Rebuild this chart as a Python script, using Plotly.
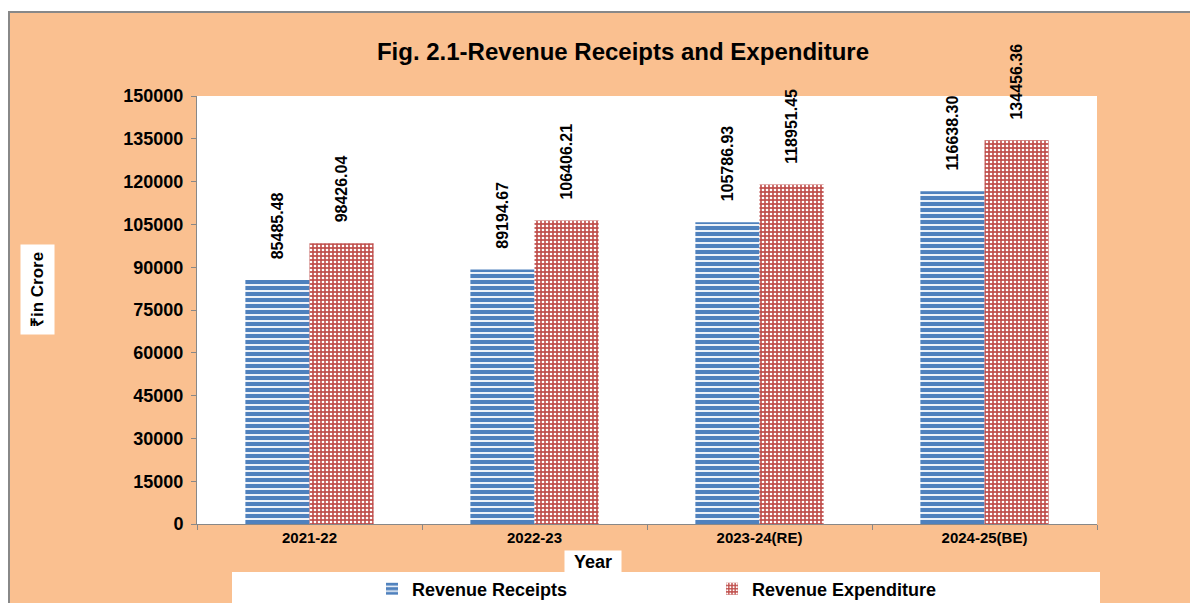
import plotly.graph_objects as go

years = ["2021-22", "2022-23", "2023-24(RE)", "2024-25(BE)"]
receipts = [85485.48, 89194.67, 105786.93, 116638.30]
expenditure = [98426.04, 106406.21, 118951.45, 134456.36]
y_ticks = list(range(0, 150001, 15000))

# page offset of the figure (browser body margin)
OX, OY = 8, 8
W, H = 1190, 595
L, R, T, B = 189, 101, 88, 79
PW, PH = W - L - R, H - T - B


def px(x):
    # x in page pixels -> paper coordinate
    return (x - OX - L) / PW


def py(y):
    # y in page pixels -> paper coordinate
    return (H - B - (y - OY)) / PH


def cy(y):
    # y in page pixels -> container coordinate
    return 1 - (y - OY) / H


def cx(x):
    return (x - OX) / W


FONT = "Liberation Sans, Arial, sans-serif"
PEACH = "#FAC090"
BLUE = "#4F81BD"
RED = "#C0504D"
LABEL_FONT = dict(family=FONT, size=16, color="black", weight="bold")
GAP = "\u00a0" * 4

fig = go.Figure()
fig.add_trace(go.Bar(
    x=years, y=receipts, name="Revenue Receipts",
    marker=dict(color=BLUE, line=dict(width=0),
                pattern=dict(shape="-", fgcolor="white", bgcolor=BLUE,
                             size=6, solidity=0.3, fgopacity=1)),
    texttemplate=GAP + "%{y:.2f}", textposition="outside", textangle=-90,
    textfont=LABEL_FONT, cliponaxis=False, constraintext="none",
))
fig.add_trace(go.Bar(
    x=years, y=expenditure, name="Revenue Expenditure",
    marker=dict(color=RED, line=dict(width=0),
                pattern=dict(shape=".", fgcolor="white", bgcolor=RED,
                             size=4, solidity=0.35, fgopacity=1)),
    texttemplate=GAP + "%{y:.2f}", textposition="outside", textangle=-90,
    textfont=LABEL_FONT, cliponaxis=False, constraintext="none",
))

shapes = [
    dict(type="rect", xref="paper", yref="paper", x0=px(0), x1=px(1200), y0=py(0), y1=py(12),
         fillcolor="white", line=dict(width=0), layer="below"),
    dict(type="line", xref="paper", yref="paper", x0=px(8), x1=px(1200), y0=py(12), y1=py(12),
         line=dict(color="#888888", width=2)),
    dict(type="line", xref="paper", yref="paper", x0=px(9), x1=px(9), y0=py(12), y1=py(610),
         line=dict(color="#888888", width=2)),
    dict(type="rect", xref="paper", yref="paper", x0=px(232), x1=px(1100), y0=py(572), y1=py(610),
         fillcolor="white", line=dict(width=0), layer="below"),
]

fig.update_layout(
    width=W, height=H,
    margin=dict(l=L, r=R, t=T, b=B, pad=0),
    paper_bgcolor=PEACH, plot_bgcolor="white",
    barmode="group", bargap=0.43, bargroupgap=0,
    font=dict(family=FONT, color="black"),
    title=dict(text="<b>Fig. 2.1-Revenue Receipts and Expenditure</b>",
               x=cx(623), xanchor="center", y=cy(52), yanchor="middle",
               font=dict(family=FONT, size=24, color="black")),
    xaxis=dict(showline=True, linecolor="#888888", linewidth=1,
               ticks="outside", tickson="boundaries", ticklen=5, tickcolor="#888888",
               tickfont=dict(family=FONT, size=15, weight="bold"), showgrid=False),
    yaxis=dict(range=[0, 150000], tickvals=y_ticks, tickformat="d", showline=True,
               linecolor="#888888", linewidth=1, ticks="outside", ticklen=5,
               tickcolor="#888888", tickfont=dict(family=FONT, size=18, weight="bold"),
               showgrid=False, ticklabelstandoff=4),
    legend=dict(orientation="h", xref="container", yref="container",
                x=cx(372), xanchor="left", y=cy(589), yanchor="middle",
                bgcolor="rgba(0,0,0,0)", entrywidth=295, entrywidthmode="pixels",
                font=dict(family=FONT, size=18, weight="bold"), itemwidth=30,
                tracegroupgap=0),
    shapes=shapes,
    annotations=[
        dict(text="<b>₹in Crore</b>", xref="paper", yref="paper", x=px(37), y=py(290),
             xanchor="center", yanchor="middle",
             textangle=-90, showarrow=False, bgcolor="white", borderpad=7,
             font=dict(family=FONT, size=17, color="black")),
        dict(text="<b>Year</b>", xref="paper", yref="paper", x=px(593), y=py(561.5),
             xanchor="center", yanchor="middle", width=52, height=17,
             showarrow=False, bgcolor="white", borderpad=2,
             font=dict(family=FONT, size=18, color="black")),
    ],
)

fig.write_html("out.html")
